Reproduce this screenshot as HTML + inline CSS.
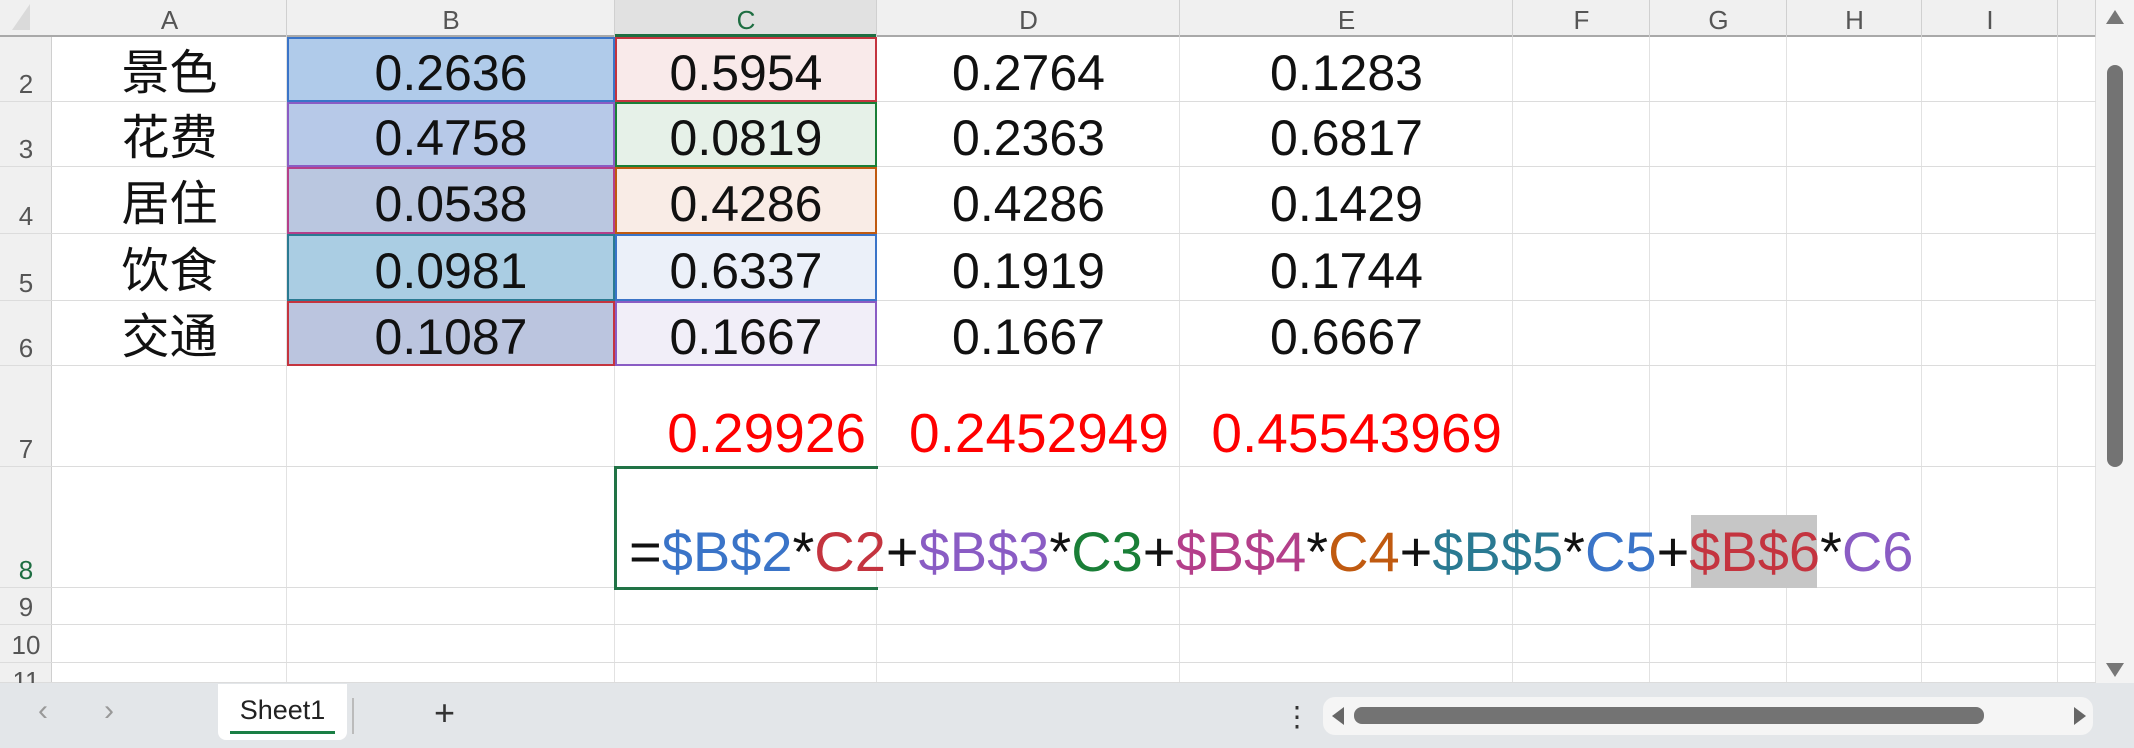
<!DOCTYPE html>
<html><head><meta charset="utf-8">
<style>
html,body{margin:0;padding:0;}
body{width:2134px;height:748px;position:relative;overflow:hidden;background:#fff;font-family:"Liberation Sans","Noto Sans CJK SC",sans-serif;}
.a{position:absolute;box-sizing:border-box;}
.vl{position:absolute;top:37px;height:646px;width:1px;background:#e2e2e2;}
.hl{position:absolute;left:0;width:2096px;height:1px;background:#dcdcdc;}
.ch{position:absolute;top:0;height:37px;line-height:40px;text-align:center;font-size:26px;color:#555;}
.rn{position:absolute;left:0;width:52px;text-align:center;font-size:26px;color:#555;}
.cell{position:absolute;text-align:center;font-size:50px;color:#111;white-space:nowrap;}
.red{position:absolute;font-size:55px;color:#ff0000;text-align:right;white-space:nowrap;}
</style></head>
<body>
<div class="a" style="left:0;top:0;width:2096px;height:37px;background:#f0f0f0;border-bottom:2px solid #a9a9a9;"></div>
<div class="a" style="left:12px;top:4px;width:0;height:0;border-left:18px solid transparent;border-bottom:26px solid #dadada;"></div>
<div class="a" style="left:0;top:37px;width:52px;height:646px;background:#f0f0f0;border-right:1px solid #cfcfcf;"></div>
<div class="a" style="left:615px;top:0;width:262px;height:37px;background:#e1e1e1;border-bottom:3px solid #1e6e42;"></div>
<div id="grid"></div>
<div class="a" style="left:2096px;top:0;width:38px;height:683px;background:#f3f3f3;"></div>
<div class="a" style="left:2106px;top:10px;width:0;height:0;border-left:9px solid transparent;border-right:9px solid transparent;border-bottom:14px solid #777;"></div>
<div class="a" style="left:2107px;top:65px;width:16px;height:402px;background:#737373;border-radius:8px;"></div>
<div class="a" style="left:2106px;top:663px;width:0;height:0;border-left:9px solid transparent;border-right:9px solid transparent;border-top:14px solid #777;"></div>
<div class="a" style="left:0;top:683px;width:2134px;height:65px;background:#e3e6e9;"></div>
<div class="a" style="left:38px;top:694px;font-size:30px;color:#999;">&#8249;</div>
<div class="a" style="left:104px;top:694px;font-size:30px;color:#999;">&#8250;</div>
<div class="a" style="left:218px;top:684px;width:129px;height:56px;background:#fff;border-radius:0 0 8px 8px;font-size:27px;color:#222;text-align:center;line-height:52px;">Sheet1<div class="a" style="left:12px;top:47px;width:105px;height:3px;background:#1a7f45;"></div></div>
<div class="a" style="left:352px;top:698px;width:2px;height:36px;background:#bbb;"></div>
<div class="a" style="left:434px;top:692px;font-size:36px;color:#333;">+</div>
<div class="a" style="left:1283px;top:700px;font-size:28px;color:#333;">&#8942;</div>
<div class="a" style="left:1323px;top:697px;width:770px;height:38px;background:#f5f5f5;border-radius:12px;"></div>
<div class="a" style="left:1332px;top:707px;width:0;height:0;border-top:9px solid transparent;border-bottom:9px solid transparent;border-right:12px solid #666;"></div>
<div class="a" style="left:1354px;top:707px;width:630px;height:17px;background:#737373;border-radius:8px;"></div>
<div class="a" style="left:2074px;top:707px;width:0;height:0;border-top:9px solid transparent;border-bottom:9px solid transparent;border-left:12px solid #666;"></div>
<script>
var colEdges=[52,287,615,877,1180,1513,1650,1787,1922,2058,2096];
var colLetters=["A","B","C","D","E","F","G","H","I"];
var rowEdges=[37,102,167,234,301,366,467,588,625,663,683];
var rowLabels=["2","3","4","5","6","7","8","9","10","11"];
var categories=["景色","花费","居住","饮食","交通"];
var colB=["0.2636","0.4758","0.0538","0.0981","0.1087"];
var colC=["0.5954","0.0819","0.4286","0.6337","0.1667"];
var colD=["0.2764","0.2363","0.4286","0.1919","0.1667"];
var colE=["0.1283","0.6817","0.1429","0.1744","0.6667"];
var results=["0.29926","0.2452949","0.45543969"];
var fillB=["#b0cbea","#b7c9e8","#bac7e0","#aacde3","#bbc5df"];
var fillC=["#f9eaea","#e6f1e8","#f9ece6","#ebf0f9","#f1eef8"];
var borderB=["#3a74c8","#8a5cc4","#b43f8a","#2a7a92","#c4343f"];
var borderC=["#c4343f","#1a7f37","#c05a10","#3a74c8","#8a5cc4"];
var g=document.getElementById('grid');
function add(cls,style,text){var d=document.createElement('div');d.className=cls;d.setAttribute('style',style);if(text!==undefined)d.textContent=text;g.appendChild(d);return d;}
for(var i=1;i<colEdges.length;i++){
 var v=add('vl','left:'+(colEdges[i]-1)+'px;');
 
 
 var hv=add('a','left:'+(colEdges[i]-1)+'px;top:0;width:1px;height:37px;background:#d0d0d0;');
 
 
}
for(var i=0;i<colLetters.length;i++){
 var hh=add('ch','left:'+colEdges[i]+'px;width:'+(colEdges[i+1]-colEdges[i])+'px;'+(i==2?'color:#1e6e42;':''),colLetters[i]);
 
 
}
for(var r=1;r<rowEdges.length;r++){
 var l=add('hl','top:'+(rowEdges[r]-1)+'px;');
 
 
}
for(var r=0;r<rowLabels.length;r++){
 var bot=rowEdges[r+1];
 var ly=(r==rowLabels.length-1)?(rowEdges[r]+2):(bot-34);
 var n=add('rn','top:'+ly+'px;height:32px;line-height:32px;'+(rowLabels[r]=='8'?'color:#1e6e42;':''),rowLabels[r]);
 
 
}
for(var r=0;r<5;r++){
 var ty=rowEdges[r],rh=rowEdges[r+1]-rowEdges[r];
 var fb=add('a','left:287px;top:'+ty+'px;width:328px;height:'+rh+'px;background:'+fillB[r]+';border:2px solid '+borderB[r]+';');
 
 
 var fc=add('a','left:615px;top:'+ty+'px;width:262px;height:'+rh+'px;background:'+fillC[r]+';border:2px solid '+borderC[r]+';');
 
 
 var lh='top:'+(ty+4)+'px;height:'+rh+'px;line-height:'+rh+'px;';
 var t=add('cell','left:52px;width:235px;'+lh+'font-family:"Liberation Sans","Noto Sans CJK SC",sans-serif;font-size:48px;',categories[r]);
 
 
 var b=add('cell','left:287px;width:328px;'+lh,colB[r]);
 
 
 var c=add('cell','left:615px;width:262px;'+lh,colC[r]);
 
 
 var d=add('cell','left:877px;width:303px;'+lh,colD[r]);
 
 
 var e=add('cell','left:1180px;width:333px;'+lh,colE[r]);
 
 
}
var rEdges=[877,1180,1513];
for(var i=0;i<results.length;i++){
 var x=add('red','right:'+(2134-rEdges[i]+11)+'px;top:400px;height:66px;line-height:66px;',results[i]);
 
 
}
var sel=add('a','left:614px;top:466px;width:264px;height:124px;border:3px solid #217346;border-right:none;');


var hb=add('a','left:1691px;top:515px;width:126px;height:73px;background:#c6c6c6;');


</script>
<div class="a" style="left:629px;top:512px;height:80px;line-height:80px;font-size:56px;white-space:nowrap;color:#111;"><span>=</span><span style="color:#3a74c8">$B$2</span>*<span style="color:#c4343f">C2</span>+<span style="color:#8a5cc4">$B$3</span>*<span style="color:#1a7f37">C3</span>+<span style="color:#b43f8a">$B$4</span>*<span style="color:#c05a10">C4</span>+<span style="color:#2a7a92">$B$5</span>*<span style="color:#3a74c8">C5</span>+<span style="color:#c4343f">$B$6</span>*<span style="color:#8a5cc4">C6</span></div>
</body></html>
